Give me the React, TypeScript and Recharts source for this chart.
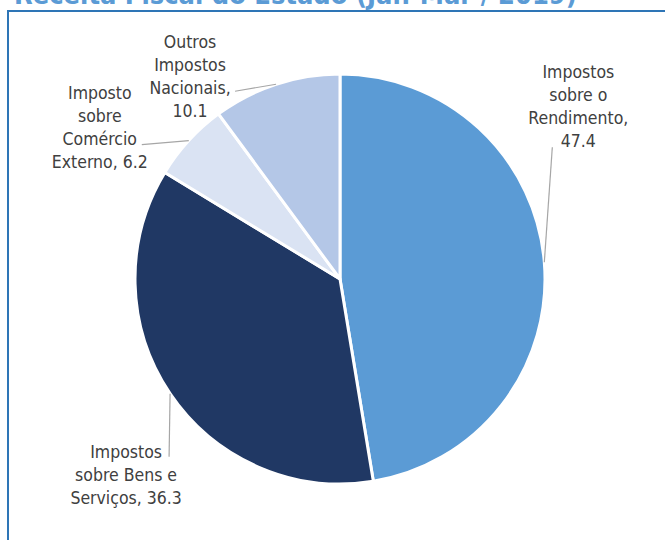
import { PieChart, Pie, Cell } from "recharts";

// Receita fiscal por tipo de imposto (%)
const categories = [
  "Impostos sobre o Rendimento",
  "Impostos sobre Bens e Serviços",
  "Imposto sobre Comércio Externo",
  "Outros Impostos Nacionais",
];
const values = [47.4, 36.3, 6.2, 10.1];
const labelWrap = [
  ["Impostos", "sobre o", "Rendimento,"],
  ["Impostos", "sobre Bens e", "Serviços,"],
  ["Imposto", "sobre", "Comércio", "Externo,"],
  ["Outros", "Impostos", "Nacionais,"],
];
const valueOnOwnLine = [true, false, false, true];
const sliceColors = ["#5b9bd5", "#203864", "#dae3f3", "#b4c7e7"];

const data = categories.map((name, i) => ({ name, value: values[i] }));

// label placement relative to the point on the arc (leader end, text centre, first line)
const labelOffsets = [
  { lx: 8, ly: -115, tx: 34, ty: -190 },
  { lx: -1, ly: 63, tx: -44, ty: 58 },
  { lx: -47, ly: 4, tx: -89, ty: -48 },
  { lx: -41, ly: 7, tx: -86, ty: -42 },
];

const RAD = Math.PI / 180;
const LINE_H = 23;

const renderLabel = (props: any) => {
  const { cx, cy, midAngle, outerRadius, index, value } = props;
  const ax = cx + outerRadius * Math.cos(-midAngle * RAD);
  const ay = cy + outerRadius * Math.sin(-midAngle * RAD);
  const o = labelOffsets[index];
  const lines = [...labelWrap[index]];
  const v = Number(value).toFixed(1);
  if (valueOnOwnLine[index]) lines.push(v);
  else lines[lines.length - 1] = `${lines[lines.length - 1]} ${v}`;
  return (
    <g key={`lbl-${index}`}>
      <line x1={ax} y1={ay} x2={ax + o.lx} y2={ay + o.ly} stroke="#a6a6a6" strokeWidth={1.2} />
      <text
        x={ax + o.tx}
        y={ay + o.ty}
        textAnchor="middle"
        fill="#404040"
        fontSize={17.5}
        fontFamily="'DejaVu Sans Condensed', 'DejaVu Sans', sans-serif"
        style={{ fontStretch: "condensed" }}
      >
        {lines.map((t, i) => (
          <tspan key={i} x={ax + o.tx} y={ay + o.ty + i * LINE_H} dominantBaseline="central">
            {t}
          </tspan>
        ))}
      </text>
    </g>
  );
};

export default function App() {
  return (
    <div style={{ position: "absolute", left: 0, top: 0, width: 665, height: 540, overflow: "hidden", background: "#fff" }}>
      <div
        style={{
          position: "absolute",
          left: 14,
          top: -21,
          fontFamily: "'DejaVu Sans Condensed', 'DejaVu Sans', sans-serif",
          fontStretch: "condensed",
          fontWeight: "bold",
          fontSize: 27,
          color: "#5b9bd5",
          whiteSpace: "nowrap",
        }}
      >
        Receita Fiscal do Estado (Jan-Mar / 2019)
      </div>
      <div
        style={{
          position: "absolute",
          left: 7,
          top: 10,
          width: 700,
          height: 600,
          borderTop: "2px solid #2e75b6",
          borderLeft: "2px solid #2e75b6",
        }}
      />
      <div style={{ position: "absolute", left: 0, top: 0 }}>
        <PieChart width={665} height={540} margin={{ top: 0, right: 0, bottom: 0, left: 0 }}>
          <Pie
            data={data}
            dataKey="value"
            nameKey="name"
            cx={340}
            cy={279}
            outerRadius={205}
            startAngle={90}
            endAngle={-270}
            stroke="#ffffff"
            strokeWidth={3}
            label={renderLabel}
            labelLine={false}
            isAnimationActive={false}
          >
            {data.map((d, i) => (
              <Cell key={d.name} fill={sliceColors[i]} />
            ))}
          </Pie>
        </PieChart>
      </div>
    </div>
  );
}
